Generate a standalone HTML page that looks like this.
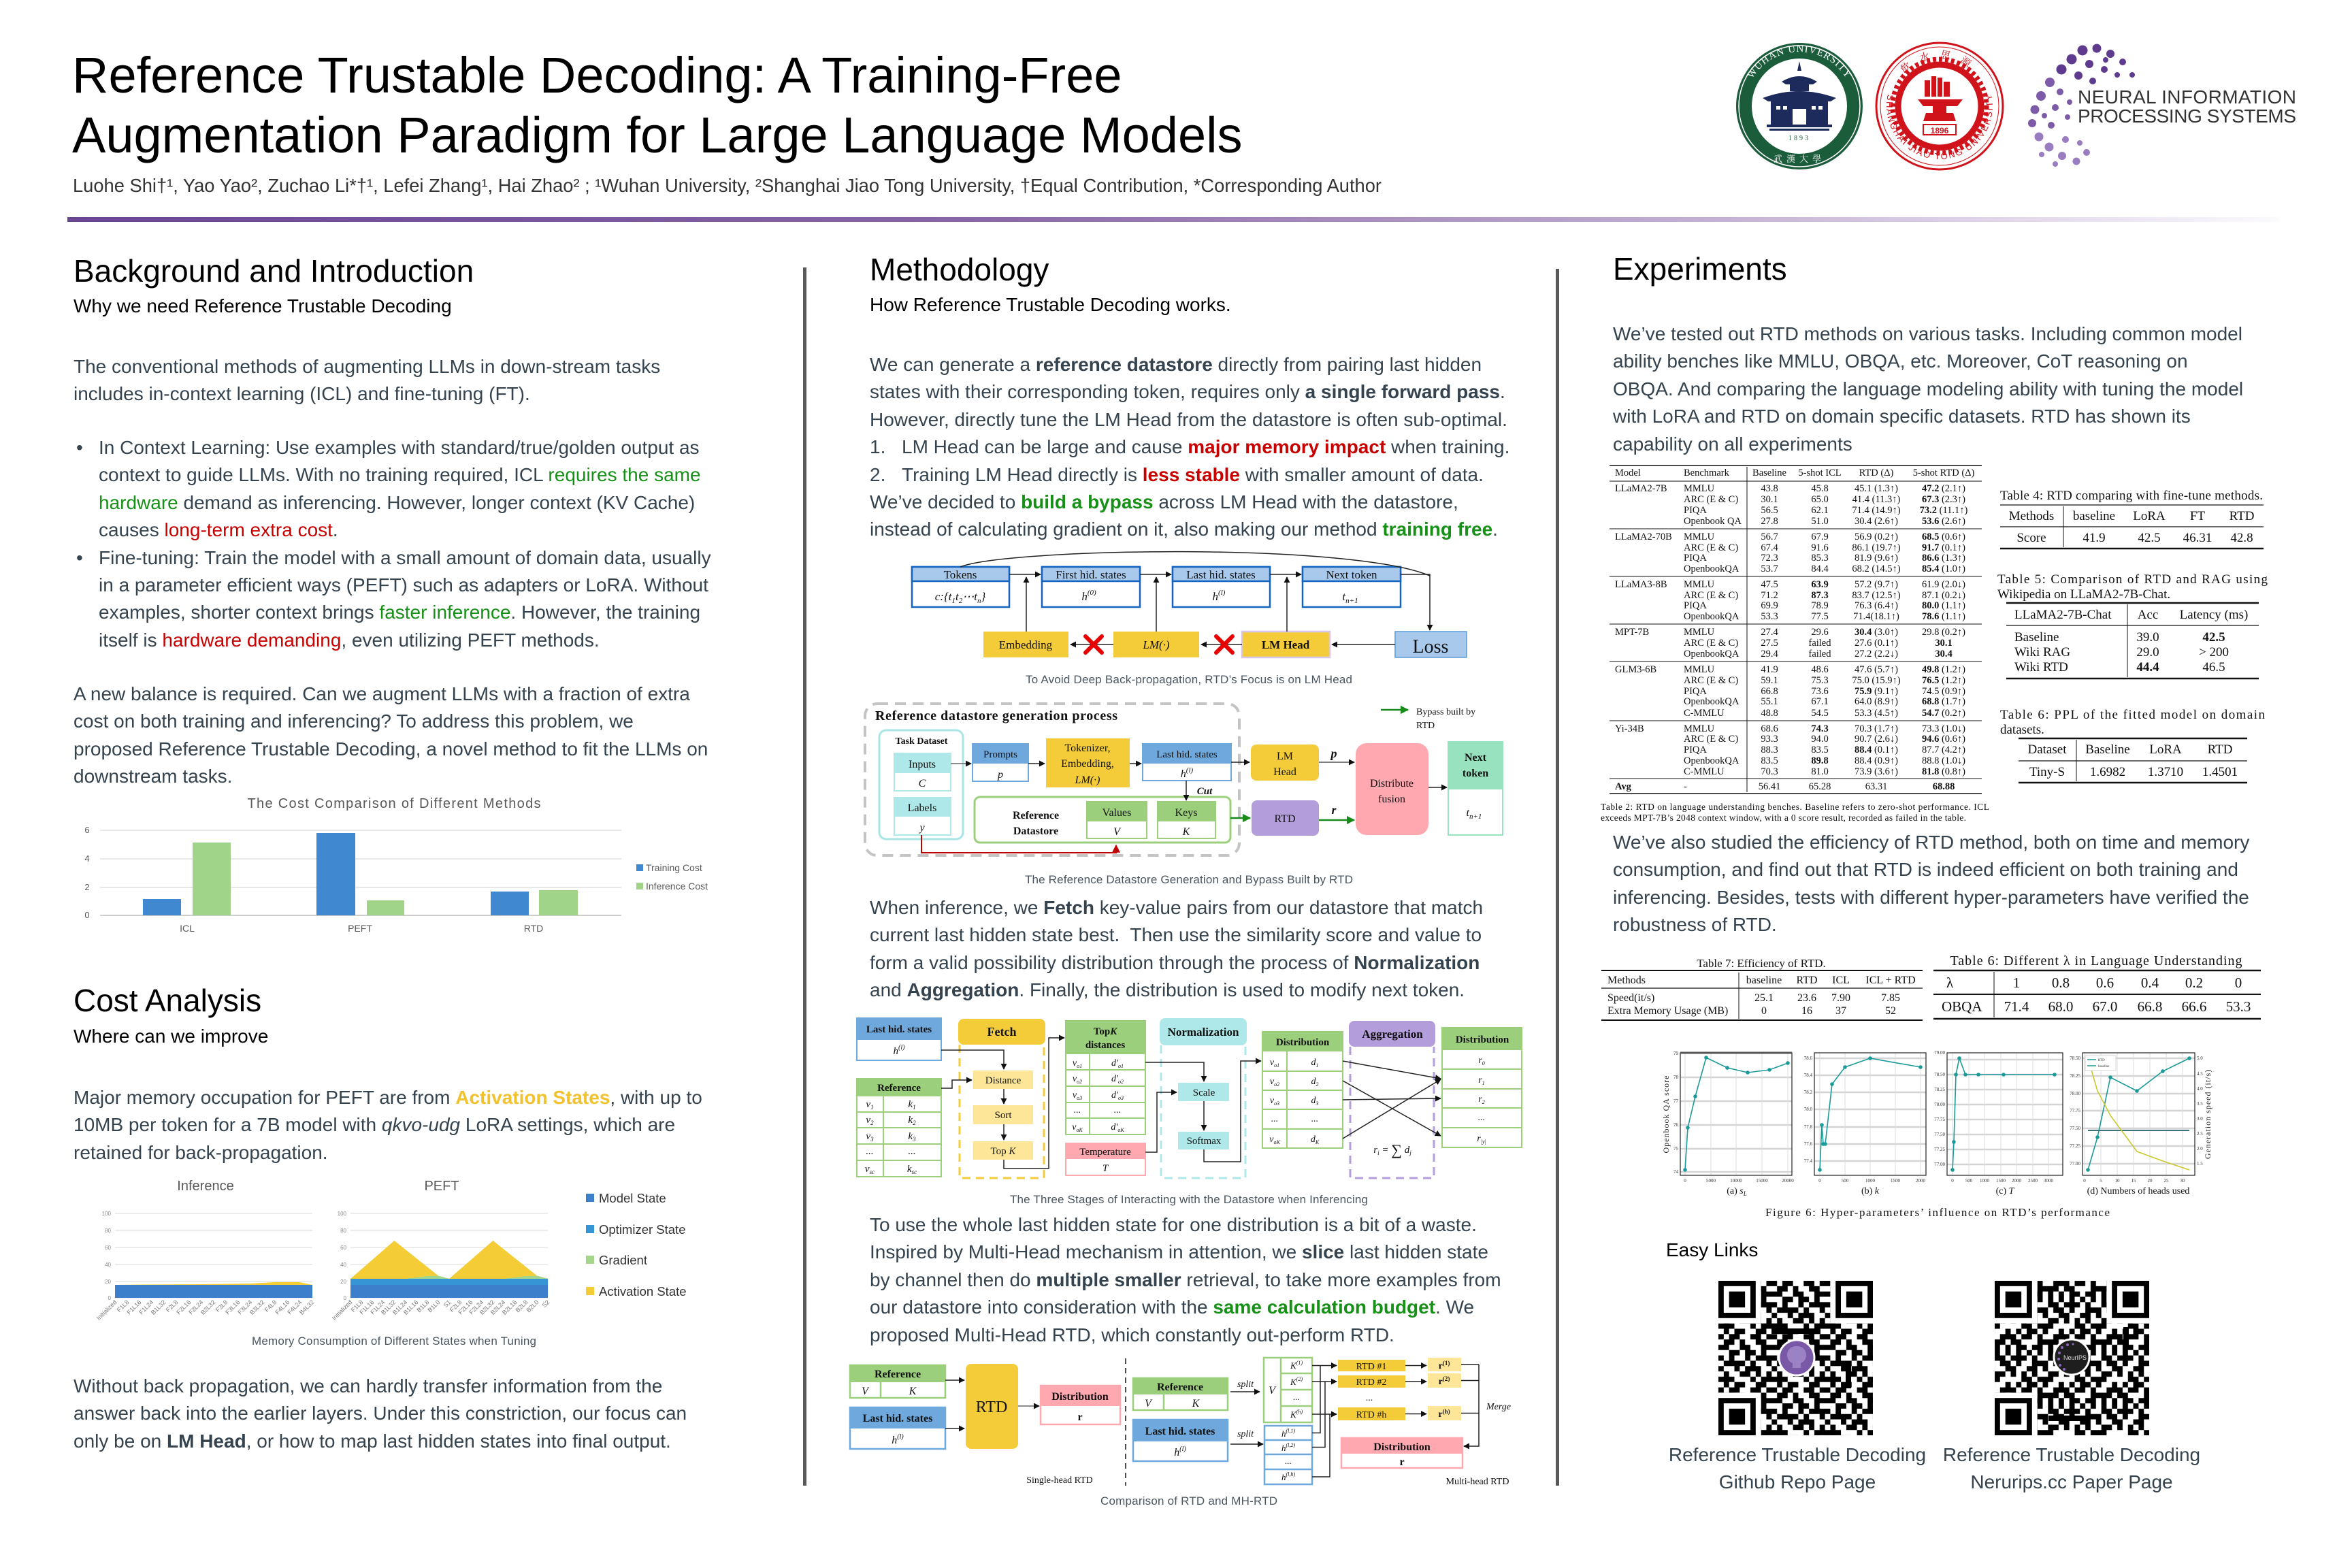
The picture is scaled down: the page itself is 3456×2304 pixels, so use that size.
<!DOCTYPE html>
<html><head><meta charset="utf-8"><style>
html,body{margin:0;padding:0}
body{width:3456px;height:2304px;position:relative;overflow:hidden;background:#fff;font-family:"Liberation Sans",Arial,sans-serif}
.a{position:absolute;white-space:nowrap}
.p{font-size:28px;line-height:40.4px;color:#35434f}
.h{font-size:46px;line-height:46px;color:#000}
.s{font-size:28px;line-height:28px;color:#000}
.gr{color:#169016}.rd{color:#c80000}.yl{color:#f2c12e;font-weight:bold}
b{font-weight:bold}
svg{position:absolute;left:0;top:0}
.sf{font-family:"Liberation Serif","Times New Roman",serif}
.ss{font-family:"Liberation Sans",Arial,sans-serif}
</style></head><body>
<svg width="3456" height="2304" viewBox="0 0 3456 2304" xmlns="http://www.w3.org/2000/svg">
<defs>
<linearGradient id="pg" x1="0" x2="1" y1="0" y2="0"><stop offset="0" stop-color="#694690"/><stop offset="0.4" stop-color="#8764a6"/><stop offset="0.75" stop-color="#c4b2d6"/><stop offset="1" stop-color="#fbfafd"/></linearGradient>
<marker id="ar" viewBox="0 0 10 10" refX="9" refY="5" markerWidth="6" markerHeight="6" orient="auto"><path d="M0,0L10,5L0,10z" fill="#111"/></marker>
<marker id="ag" viewBox="0 0 10 10" refX="9" refY="5" markerWidth="5" markerHeight="5" orient="auto"><path d="M0,0L10,5L0,10z" fill="#1a8a1a"/></marker>
<marker id="arr" viewBox="0 0 10 10" refX="9" refY="5" markerWidth="6" markerHeight="6" orient="auto"><path d="M0,0L10,5L0,10z" fill="#c00000"/></marker>
<pattern id="qa" patternUnits="userSpaceOnUse" width="78.3" height="78.3" patternTransform="translate(2525,1882)"><path transform="scale(7.83)" fill="#000" d="M0 0h1v1h-1zM2 0h2v1h-2zM6 0h2v1h-2zM9 0h1v1h-1zM1 1h2v1h-2zM4 1h1v1h-1zM7 1h2v1h-2zM0 2h2v1h-2zM4 2h2v1h-2zM8 2h2v1h-2zM2 3h2v1h-2zM5 3h2v1h-2zM8 3h1v1h-1zM0 4h1v1h-1zM2 4h1v1h-1zM5 4h1v1h-1zM7 4h3v1h-3zM1 5h4v1h-4zM6 5h1v1h-1zM9 5h1v1h-1zM0 6h1v1h-1zM3 6h1v1h-1zM5 6h3v1h-3zM1 7h1v1h-1zM4 7h2v1h-2zM7 7h1v1h-1zM9 7h1v1h-1zM0 8h3v1h-3zM6 8h1v1h-1zM8 8h2v1h-2zM1 9h1v1h-1zM3 9h2v1h-2zM7 9h2v1h-2z"/></pattern>
<pattern id="qb" patternUnits="userSpaceOnUse" width="78.3" height="78.3" patternTransform="translate(2954.5,1905.5) rotate(90)"><path transform="scale(7.83)" fill="#000" d="M0 0h1v1h-1zM2 0h2v1h-2zM6 0h2v1h-2zM9 0h1v1h-1zM1 1h2v1h-2zM4 1h1v1h-1zM7 1h2v1h-2zM0 2h2v1h-2zM4 2h2v1h-2zM8 2h2v1h-2zM2 3h2v1h-2zM5 3h2v1h-2zM8 3h1v1h-1zM0 4h1v1h-1zM2 4h1v1h-1zM5 4h1v1h-1zM7 4h3v1h-3zM1 5h4v1h-4zM6 5h1v1h-1zM9 5h1v1h-1zM0 6h1v1h-1zM3 6h1v1h-1zM5 6h3v1h-3zM1 7h1v1h-1zM4 7h2v1h-2zM7 7h1v1h-1zM9 7h1v1h-1zM0 8h3v1h-3zM6 8h1v1h-1zM8 8h2v1h-2zM1 9h1v1h-1zM3 9h2v1h-2zM7 9h2v1h-2z"/></pattern>
<g id="fd"><rect x="0" y="0" width="54.8" height="54.8" fill="#000"/><rect x="7.83" y="7.83" width="39.15" height="39.15" fill="#fff"/><rect x="15.66" y="15.66" width="23.49" height="23.49" fill="#000"/></g>
<path id="wharc" d="M2568.8,183.4 A80,80 0 1,1 2719.2,183.4"/>
<path id="sjarc" d="M2776.7,129.3 A78,78 0 1,0 2923.3,129.3"/>
<path id="sjtop" d="M2790,120 A70,70 0 0,1 2910,120"/>
</defs>

<!-- header bar & separators -->
<rect x="99" y="319" width="3251" height="7" fill="url(#pg)"/>
<rect x="1180" y="393" width="5" height="1790" fill="#595959"/>
<rect x="2286" y="395" width="5" height="1788" fill="#595959"/>

<!-- Wuhan logo -->
<circle cx="2644" cy="156" r="93" fill="#1b5c3b"/>
<circle cx="2644" cy="156" r="89" fill="none" stroke="#fff" stroke-width="1.5"/>
<circle cx="2644" cy="156" r="70" fill="#fff"/>
<text class="sf" font-size="15" fill="#fff" letter-spacing="1"><textPath href="#wharc" startOffset="50%" text-anchor="middle">WUHAN UNIVERSITY</textPath></text>
<g fill="#1d2a5c">
<path d="M2644,90 l3,14 h-6z"/>
<path d="M2618,120 Q2644,104 2670,120 L2664,124 H2624Z"/>
<rect x="2630" y="124" width="28" height="10"/>
<path d="M2590,144 Q2644,124 2698,144 L2690,149 H2598Z"/>
<rect x="2602" y="149" width="84" height="34"/>
<rect x="2596" y="183" width="96" height="4"/>
<rect x="2600" y="189" width="88" height="3"/>
</g>
<g fill="#fff"><rect x="2610" y="156" width="6" height="5"/><rect x="2620" y="156" width="6" height="5"/><rect x="2662" y="156" width="6" height="5"/><rect x="2672" y="156" width="6" height="5"/><rect x="2634" y="160" width="20" height="23"/></g>
<text x="2644" y="206" class="sf" font-size="10" fill="#1b5c3b" text-anchor="middle" letter-spacing="3">1893</text>
<text x="2644" y="238" font-family="Noto Serif CJK SC,Noto Sans CJK SC,serif" font-size="13" fill="#fff" text-anchor="middle" letter-spacing="6">武漢大學</text>

<!-- SJTU logo -->
<circle cx="2850" cy="156" r="93" fill="#fff" stroke="#d0121b" stroke-width="3"/>
<circle cx="2850" cy="156" r="87" fill="none" stroke="#d0121b" stroke-width="1"/>
<circle cx="2850" cy="156" r="69" fill="none" stroke="#d0121b" stroke-width="7" stroke-dasharray="5 4"/>
<circle cx="2850" cy="156" r="61" fill="none" stroke="#d0121b" stroke-width="9"/>
<text class="ss" font-size="13" fill="#d0121b"><textPath href="#sjarc" startOffset="50%" text-anchor="middle" textLength="280">SHANGHAI JIAO TONG UNIVERSITY</textPath></text>
<text font-family="Noto Serif CJK SC,Noto Sans CJK SC,serif" font-size="15" fill="#d0121b"><textPath href="#sjtop" startOffset="50%" text-anchor="middle" letter-spacing="14">飲水思源</textPath></text>
<g fill="#d0121b">
<rect x="2828" y="118" width="8" height="24"/><rect x="2838" y="112" width="7" height="30"/><rect x="2847" y="114" width="7" height="28"/><rect x="2856" y="120" width="9" height="22"/>
<path d="M2818,146 H2884 L2876,156 H2860 V166 H2870 L2874,178 H2826 L2830,166 H2840 V156 H2826Z"/>
<rect x="2826" y="183" width="48" height="15" fill="#fff" stroke="#d0121b" stroke-width="2"/>
</g>
<text x="2850" y="196" class="ss" font-size="12" font-weight="bold" fill="#d0121b" text-anchor="middle">1896</text>

<!-- NeurIPS logo -->
<g fill="#5e3b8e">
<circle cx="3060" cy="74" r="7.5"/><circle cx="3081" cy="71" r="6.5"/><circle cx="3101" cy="79" r="6"/><circle cx="3119" cy="91" r="5"/><circle cx="3133" cy="110" r="4"/><circle cx="3044" cy="87" r="7.5"/><circle cx="3070" cy="94" r="6"/><circle cx="3092" cy="102" r="5"/><circle cx="3111" cy="110" r="4"/><circle cx="3029" cy="102" r="7.5"/><circle cx="3054" cy="111" r="6"/><circle cx="3075" cy="119" r="5"/><circle cx="3094" cy="88" r="4"/>
</g>
<g fill="#7d5ba8">
<circle cx="3012" cy="121" r="7"/><circle cx="2999" cy="141" r="7"/><circle cx="2990" cy="161" r="6.5"/><circle cx="2986" cy="181" r="6"/><circle cx="3027" cy="135" r="5"/><circle cx="3020" cy="158" r="5"/><circle cx="3014" cy="184" r="5"/><circle cx="3041" cy="150" r="4"/><circle cx="3038" cy="172" r="4"/><circle cx="3004" cy="170" r="4"/>
</g>
<g fill="#9a7cc0">
<circle cx="2996" cy="201" r="6.5"/><circle cx="3011" cy="216" r="6.5"/><circle cx="3030" cy="229" r="6"/><circle cx="3051" cy="237" r="5.5"/><circle cx="3066" cy="224" r="5"/><circle cx="3035" cy="205" r="5"/><circle cx="3056" cy="210" r="4"/><circle cx="3000" cy="227" r="4"/><circle cx="3020" cy="241" r="4"/>
</g>
<text x="3053" y="152" class="ss" font-size="28" fill="#333" textLength="321">NEURAL INFORMATION</text>
<text x="3053" y="180" class="ss" font-size="28" fill="#333" textLength="321">PROCESSING SYSTEMS</text>

<!-- ============ Cost comparison chart ============ -->
<text x="579" y="1187" class="ss" font-size="20" fill="#595959" text-anchor="middle" textLength="431">The Cost Comparison of Different Methods</text>
<g stroke="#d9d9d9" stroke-width="1.2"><path d="M147,1220H913M147,1262H913M147,1304H913"/></g>
<path d="M147,1345H913" stroke="#bfbfbf" stroke-width="1.5"/>
<g class="ss" font-size="13" fill="#595959" text-anchor="middle"><text x="128" y="1224">6</text><text x="128" y="1266">4</text><text x="128" y="1308">2</text><text x="128" y="1349">0</text></g>
<g fill="#4088d0"><rect x="210" y="1321" width="56" height="24"/><rect x="465" y="1224" width="57" height="121"/><rect x="721" y="1310" width="56" height="35"/></g>
<g fill="#a0d488"><rect x="283" y="1238" width="56" height="107"/><rect x="539" y="1323" width="55" height="22"/><rect x="792" y="1308" width="57" height="37"/></g>
<g class="ss" font-size="14" fill="#595959" text-anchor="middle"><text x="275" y="1369">ICL</text><text x="529" y="1369">PEFT</text><text x="784" y="1369">RTD</text></g>
<rect x="935" y="1270" width="10" height="10" fill="#4088d0"/><text x="949" y="1280" class="ss" font-size="14" fill="#595959">Training Cost</text>
<rect x="935" y="1297" width="10" height="10" fill="#a0d488"/><text x="949" y="1307" class="ss" font-size="14" fill="#595959">Inference Cost</text>

<!-- ============ Memory charts ============ -->
<text x="302" y="1749" class="ss" font-size="20" fill="#595959" text-anchor="middle">Inference</text>
<text x="649" y="1749" class="ss" font-size="20" fill="#595959" text-anchor="middle">PEFT</text>
<g stroke="#d9d9d9" stroke-width="1"><path d="M169,1783H459M169,1808H459M169,1833H459M169,1858H459M169,1883H459M169,1907H459"/><path d="M515,1783H805M515,1808H805M515,1833H805M515,1858H805M515,1883H805M515,1907H805"/></g>
<g class="ss" font-size="8" fill="#888" text-anchor="end"><text x="163" y="1786">100</text><text x="163" y="1811">80</text><text x="163" y="1836">60</text><text x="163" y="1861">40</text><text x="163" y="1886">20</text><text x="163" y="1910">0</text>
<text x="509" y="1786">100</text><text x="509" y="1811">80</text><text x="509" y="1836">60</text><text x="509" y="1861">40</text><text x="509" y="1886">20</text><text x="509" y="1910">0</text></g>
<rect x="169" y="1888" width="290" height="19" fill="#3d7fcb"/>
<path d="M169,1888 L205,1887.5 L296,1887 L368,1886 L404,1884 L440,1884 L459,1888Z" fill="#f4cc36"/>
<rect x="515" y="1888" width="290" height="19" fill="#3d7fcb"/>
<rect x="515" y="1879" width="290" height="9" fill="#3595d5"/>
<path d="M515,1879 L579.4,1823 L644,1874.5 L660,1879 L724.4,1823 L789,1874.5 L805,1879Z" fill="#f4cc36"/>
<path d="M596,1879 L628,1875 L644,1874.5 L660,1879Z M741,1879 L773,1875 L789,1874.5 L805,1879Z" fill="#a5d68c"/>
<g class="ss" font-size="9" fill="#777" text-anchor="end">
<text transform="translate(172,1914) rotate(-45)">Initialized</text><text transform="translate(190,1914) rotate(-45)">F1L8</text><text transform="translate(208,1914) rotate(-45)">F1L16</text><text transform="translate(226,1914) rotate(-45)">F1L24</text><text transform="translate(244,1914) rotate(-45)">B1L32</text><text transform="translate(262,1914) rotate(-45)">F2L8</text><text transform="translate(281,1914) rotate(-45)">F2L16</text><text transform="translate(299,1914) rotate(-45)">F2L24</text><text transform="translate(317,1914) rotate(-45)">B2L32</text><text transform="translate(335,1914) rotate(-45)">F3L8</text><text transform="translate(353,1914) rotate(-45)">F3L16</text><text transform="translate(371,1914) rotate(-45)">F3L24</text><text transform="translate(389,1914) rotate(-45)">B3L32</text><text transform="translate(407,1914) rotate(-45)">F4L8</text><text transform="translate(426,1914) rotate(-45)">F4L16</text><text transform="translate(444,1914) rotate(-45)">F4L24</text><text transform="translate(462,1914) rotate(-45)">B4L32</text>
<text transform="translate(518,1914) rotate(-45)">Initialized</text><text transform="translate(534,1914) rotate(-45)">F1L8</text><text transform="translate(550,1914) rotate(-45)">F1L16</text><text transform="translate(566,1914) rotate(-45)">F1L24</text><text transform="translate(582,1914) rotate(-45)">B1L32</text><text transform="translate(599,1914) rotate(-45)">B1L24</text><text transform="translate(615,1914) rotate(-45)">B1L16</text><text transform="translate(631,1914) rotate(-45)">B1L8</text><text transform="translate(647,1914) rotate(-45)">B1L0</text><text transform="translate(663,1914) rotate(-45)">S1</text><text transform="translate(679,1914) rotate(-45)">F2L8</text><text transform="translate(695,1914) rotate(-45)">F2L16</text><text transform="translate(711,1914) rotate(-45)">F2L24</text><text transform="translate(727,1914) rotate(-45)">B2L32</text><text transform="translate(743,1914) rotate(-45)">B2L24</text><text transform="translate(760,1914) rotate(-45)">B2L16</text><text transform="translate(776,1914) rotate(-45)">B2L8</text><text transform="translate(792,1914) rotate(-45)">B2L0</text><text transform="translate(808,1914) rotate(-45)">S2</text>
</g>
<rect x="861" y="1754" width="12" height="12" fill="#3d7fcb"/><rect x="861" y="1800" width="12" height="12" fill="#3595d5"/><rect x="861" y="1845" width="12" height="12" fill="#a5d68c"/><rect x="861" y="1891" width="12" height="12" fill="#f4cc36"/>
<g class="ss" font-size="18.5" fill="#333"><text x="880" y="1767">Model State</text><text x="880" y="1813">Optimizer State</text><text x="880" y="1858">Gradient</text><text x="880" y="1904">Activation State</text></g>
<text x="579" y="1976" class="ss" font-size="17" fill="#4a5560" text-anchor="middle" textLength="418">Memory Consumption of Different States when Tuning</text>

<!-- ============ Figure 1 ============ -->
<g class="sf" font-size="17" text-anchor="middle" fill="#111">
<g stroke="#1565c0" stroke-width="2.5">
<rect x="1340" y="833" width="143" height="59" fill="#fff"/><rect x="1340" y="833" width="143" height="21" fill="#a9c9ec"/>
<rect x="1531" y="833" width="144" height="59" fill="#fff"/><rect x="1531" y="833" width="144" height="21" fill="#a9c9ec"/>
<rect x="1723" y="833" width="143" height="59" fill="#fff"/><rect x="1723" y="833" width="143" height="21" fill="#a9c9ec"/>
<rect x="1914" y="833" width="144" height="59" fill="#fff"/><rect x="1914" y="833" width="144" height="21" fill="#a9c9ec"/>
</g>
<text x="1411" y="850">Tokens</text><text x="1603" y="850">First hid. states</text><text x="1794" y="850">Last hid. states</text><text x="1986" y="850">Next token</text>
<text x="1411" y="882" font-style="italic">c:{t<tspan font-size="11" dy="4">1</tspan><tspan dy="-4">t</tspan><tspan font-size="11" dy="4">2</tspan><tspan dy="-4">⋯t</tspan><tspan font-size="11" dy="4">n</tspan><tspan dy="-4">}</tspan></text>
<text x="1600" y="882" font-style="italic">h<tspan font-size="11" dy="-8">(0)</tspan></text>
<text x="1791" y="882" font-style="italic">h<tspan font-size="11" dy="-8">(l)</tspan></text>
<text x="1984" y="882" font-style="italic">t<tspan font-size="11" dy="4">n+1</tspan></text>
<rect x="1445" y="928" width="125" height="38" fill="#f4cc3a"/>
<rect x="1636" y="928" width="126" height="38" fill="#f4cc3a"/>
<rect x="1825" y="928" width="129" height="38" fill="#f4cc3a" stroke="#d6c6ee" stroke-width="2.5"/>
<rect x="2050" y="928" width="105" height="38" fill="#a9c9ec" stroke="#5b9bd5" stroke-width="1.5"/>
<text x="1507" y="953">Embedding</text><text x="1699" y="953" font-style="italic">LM(·)</text><text x="1889" y="953" font-weight="bold">LM Head</text><text x="2102" y="959" font-size="28">Loss</text>
</g>
<g stroke="#222" stroke-width="1.5" fill="none">
<path d="M1483,844H1529" marker-end="url(#ar)"/><path d="M1675,844H1721" marker-end="url(#ar)"/><path d="M1866,844H1912" marker-end="url(#ar)"/>
<path d="M1411,833 C1480,806 1980,796 2101,846"/>
<path d="M2058,844H2101V926" marker-end="url(#ar)"/>
<path d="M1508,928V848" marker-end="url(#ar)"/><path d="M1699,928V848" marker-end="url(#ar)"/><path d="M1891,928V848" marker-end="url(#ar)"/>
<path d="M2050,947H1957" marker-end="url(#ar)"/><path d="M1825,947H1765" marker-end="url(#ar)"/><path d="M1636,947H1573" marker-end="url(#ar)"/>
</g>
<g stroke="#e80000" stroke-width="6" stroke-linecap="round"><path d="M1787,935L1811,959M1811,935L1787,959"/><path d="M1595,935L1619,959M1619,935L1595,959"/></g>
<text x="1747" y="1004" class="ss" font-size="17" fill="#4a5560" text-anchor="middle" textLength="480">To Avoid Deep Back-propagation, RTD’s Focus is on LM Head</text>

<!-- ============ Figure 2 ============ -->
<rect x="1271" y="1034" width="550" height="223" rx="18" fill="none" stroke="#c4c4c4" stroke-width="4" stroke-dasharray="16 10"/>
<g class="sf" fill="#111" text-anchor="middle" font-size="16">
<text x="1286" y="1058" text-anchor="start" font-weight="bold" font-size="20" textLength="356">Reference datastore generation process</text>
<rect x="1292" y="1073" width="123" height="160" rx="10" fill="#fff" stroke="#a8e6e6" stroke-width="3"/>
<text x="1354" y="1093" font-weight="bold" font-size="14">Task Dataset</text>
<rect x="1314" y="1107" width="83" height="55" fill="#fff" stroke="#aee8e8" stroke-width="2"/><rect x="1314" y="1107" width="83" height="29" fill="#aee8e8"/>
<rect x="1314" y="1172" width="83" height="55" fill="#fff" stroke="#aee8e8" stroke-width="2"/><rect x="1314" y="1172" width="83" height="28" fill="#aee8e8"/>
<text x="1355" y="1128">Inputs</text><text x="1355" y="1156" font-style="italic">C</text>
<text x="1355" y="1192">Labels</text><text x="1355" y="1221" font-style="italic">y</text>
<rect x="1429" y="1093" width="82" height="55" fill="#fff" stroke="#6fa8dc" stroke-width="2"/><rect x="1429" y="1093" width="82" height="29" fill="#6fa8dc"/>
<text x="1470" y="1113" font-size="15">Prompts</text><text x="1470" y="1143" font-style="italic">p</text>
<rect x="1537" y="1085" width="123" height="72" fill="#f4cc3a"/>
<text x="1598" y="1104">Tokenizer,</text><text x="1598" y="1127">Embedding,</text><text x="1598" y="1151" font-style="italic">LM(·)</text>
<rect x="1679" y="1093" width="130" height="54" fill="#fff" stroke="#6fa8dc" stroke-width="2"/><rect x="1679" y="1093" width="130" height="29" fill="#6fa8dc"/>
<text x="1744" y="1113" font-size="15">Last hid. states</text><text x="1744" y="1142" font-style="italic">h<tspan font-size="11" dy="-7">(l)</tspan></text>
<rect x="1838" y="1094" width="100" height="53" rx="8" fill="#f4cc3a"/>
<text x="1888" y="1116">LM</text><text x="1888" y="1139">Head</text>
<rect x="1992" y="1092" width="107" height="135" rx="16" fill="#ffa8b0"/>
<text x="2045" y="1156">Distribute</text><text x="2045" y="1179">fusion</text>
<rect x="2128" y="1090" width="80" height="137" fill="#fff" stroke="#98e2c0" stroke-width="2"/><rect x="2128" y="1090" width="80" height="70" fill="#98e2c0"/>
<text x="2168" y="1118" font-weight="bold">Next</text><text x="2168" y="1141" font-weight="bold">token</text>
<text x="2166" y="1199" font-style="italic">t<tspan font-size="11" dy="4">n+1</tspan></text>
<rect x="1432" y="1171" width="376" height="67" rx="8" fill="#fff" stroke="#9ccf7c" stroke-width="3"/>
<text x="1522" y="1203" font-weight="bold">Reference</text><text x="1522" y="1226" font-weight="bold">Datastore</text>
<rect x="1597" y="1178" width="88" height="54" fill="#fff" stroke="#9ccf7c" stroke-width="2"/><rect x="1597" y="1178" width="88" height="29" fill="#9ccf7c"/>
<rect x="1701" y="1178" width="85" height="54" fill="#fff" stroke="#9ccf7c" stroke-width="2"/><rect x="1701" y="1178" width="85" height="29" fill="#9ccf7c"/>
<text x="1641" y="1199">Values</text><text x="1641" y="1227" font-style="italic">V</text>
<text x="1743" y="1199">Keys</text><text x="1743" y="1227" font-style="italic">K</text>
<rect x="1839" y="1176" width="99" height="52" rx="8" fill="#b39ddb"/>
<text x="1888" y="1208">RTD</text>
<text x="1960" y="1113" font-weight="bold" font-style="italic" font-size="18">p</text>
<text x="1960" y="1196" font-weight="bold" font-style="italic" font-size="18">r</text>
<text x="1770" y="1167" font-weight="bold" font-style="italic" font-size="15">Cut</text>
<text x="2081" y="1050" text-anchor="start" font-size="14">Bypass built by</text><text x="2081" y="1070" text-anchor="start" font-size="14">RTD</text>
</g>
<g stroke="#222" stroke-width="1.5" fill="none">
<path d="M1397,1122H1427" marker-end="url(#ar)" stroke="#666"/><path d="M1511,1122H1535" marker-end="url(#ar)"/><path d="M1660,1122H1677" marker-end="url(#ar)"/><path d="M1809,1120H1836" marker-end="url(#ar)"/>
<path d="M1938,1120H1990" marker-end="url(#ar)" stroke="#555"/><path d="M2099,1157H2126" marker-end="url(#ar)"/>
<path d="M1743,1147V1176" marker-end="url(#ar)"/>
</g>
<g stroke="#1a8a1a" stroke-width="2.5" fill="none"><path d="M1808,1202H1837" marker-end="url(#ag)"/><path d="M1938,1205H1990" marker-end="url(#ag)"/><path d="M2029,1043H2069" marker-end="url(#ag)"/></g>
<path d="M1354,1227V1253H1640V1242" stroke="#c00000" stroke-width="2" fill="none" marker-end="url(#arr)"/>
<text x="1747" y="1298" class="ss" font-size="17" fill="#4a5560" text-anchor="middle" textLength="482">The Reference Datastore Generation and Bypass Built by RTD</text>

<!-- ============ Figure 3 ============ -->
<g class="sf" fill="#111" text-anchor="middle" font-size="15">
<rect x="1259" y="1496" width="124" height="62" fill="#fff" stroke="#6fa8dc" stroke-width="2"/><rect x="1259" y="1496" width="124" height="32" fill="#6fa8dc"/>
<text x="1321" y="1517" font-weight="bold">Last hid. states</text><text x="1321" y="1549" font-style="italic">h<tspan font-size="10" dy="-7">(l)</tspan></text>
<rect x="1259" y="1585" width="124" height="144" fill="#fff" stroke="#9ccf7c" stroke-width="2"/><rect x="1259" y="1585" width="124" height="26" fill="#9ccf7c"/>
<path d="M1259,1634H1383M1259,1657H1383M1259,1681H1383M1259,1705H1383M1298,1611V1729" stroke="#9ccf7c" stroke-width="2"/>
<text x="1321" y="1603" font-weight="bold">Reference</text>
<g font-style="italic"><text x="1278" y="1627">v<tspan font-size="9" dy="3">1</tspan></text><text x="1340" y="1627">k<tspan font-size="9" dy="3">1</tspan></text><text x="1278" y="1650">v<tspan font-size="9" dy="3">2</tspan></text><text x="1340" y="1650">k<tspan font-size="9" dy="3">2</tspan></text><text x="1278" y="1674">v<tspan font-size="9" dy="3">3</tspan></text><text x="1340" y="1674">k<tspan font-size="9" dy="3">3</tspan></text><text x="1278" y="1696">...</text><text x="1340" y="1696">...</text><text x="1278" y="1722">v<tspan font-size="9" dy="3">sc</tspan></text><text x="1340" y="1722">k<tspan font-size="9" dy="3">sc</tspan></text></g>
<rect x="1408" y="1497" width="128" height="38" rx="8" fill="#f4cc3a"/><text x="1472" y="1522" font-weight="bold" font-size="18">Fetch</text>
<path d="M1410,1535V1731H1534V1535" fill="none" stroke="#f4cc3a" stroke-width="3" stroke-dasharray="12 8"/>
<rect x="1430" y="1573" width="88" height="27" fill="#fde698"/><text x="1474" y="1592">Distance</text>
<rect x="1430" y="1624" width="88" height="28" fill="#fde698"/><text x="1474" y="1643">Sort</text>
<rect x="1430" y="1677" width="88" height="27" fill="#fde698"/><text x="1474" y="1696">Top <tspan font-style="italic">K</tspan></text>
<rect x="1566" y="1500" width="117" height="167" fill="#fff" stroke="#9ccf7c" stroke-width="2"/><rect x="1566" y="1500" width="117" height="49" fill="#9ccf7c"/>
<path d="M1566,1572H1683M1566,1596H1683M1566,1620H1683M1566,1643H1683M1601,1549V1667" stroke="#9ccf7c" stroke-width="2"/>
<text x="1624" y="1520" font-weight="bold">Top<tspan font-style="italic">K</tspan></text><text x="1624" y="1540" font-weight="bold">distances</text>
<g font-style="italic" font-size="14"><text x="1583" y="1566">v<tspan font-size="8" dy="3">o1</tspan></text><text x="1642" y="1566">d'<tspan font-size="8" dy="3">o1</tspan></text><text x="1583" y="1589">v<tspan font-size="8" dy="3">o2</tspan></text><text x="1642" y="1589">d'<tspan font-size="8" dy="3">o2</tspan></text><text x="1583" y="1613">v<tspan font-size="8" dy="3">o3</tspan></text><text x="1642" y="1613">d'<tspan font-size="8" dy="3">o3</tspan></text><text x="1583" y="1635">...</text><text x="1642" y="1635">...</text><text x="1583" y="1660">v<tspan font-size="8" dy="3">oK</tspan></text><text x="1642" y="1660">d'<tspan font-size="8" dy="3">oK</tspan></text></g>
<rect x="1566" y="1680" width="117" height="47" fill="#fff" stroke="#ffa8b0" stroke-width="2"/><rect x="1566" y="1680" width="117" height="23" fill="#ffa8b0"/>
<text x="1624" y="1697">Temperature</text><text x="1624" y="1721" font-style="italic">T</text>
<rect x="1704" y="1496" width="128" height="40" rx="8" fill="#aee8e8"/><text x="1768" y="1522" font-weight="bold" font-size="17">Normalization</text>
<path d="M1706,1536V1731H1830V1536" fill="none" stroke="#aee8e8" stroke-width="3" stroke-dasharray="12 8"/>
<rect x="1731" y="1591" width="75" height="27" fill="#aee8e8"/><text x="1769" y="1610">Scale</text>
<rect x="1731" y="1663" width="75" height="26" fill="#aee8e8"/><text x="1769" y="1681">Softmax</text>
<rect x="1855" y="1516" width="118" height="171" fill="#fff" stroke="#9ccf7c" stroke-width="2"/><rect x="1855" y="1516" width="118" height="29" fill="#9ccf7c"/>
<path d="M1855,1574H1973M1855,1602H1973M1855,1630H1973M1855,1659H1973M1891,1545V1687" stroke="#9ccf7c" stroke-width="2"/>
<text x="1914" y="1536" font-weight="bold">Distribution</text>
<g font-style="italic" font-size="14"><text x="1873" y="1565">v<tspan font-size="8" dy="3">o1</tspan></text><text x="1932" y="1565">d<tspan font-size="8" dy="3">1</tspan></text><text x="1873" y="1593">v<tspan font-size="8" dy="3">o2</tspan></text><text x="1932" y="1593">d<tspan font-size="8" dy="3">2</tspan></text><text x="1873" y="1621">v<tspan font-size="8" dy="3">o3</tspan></text><text x="1932" y="1621">d<tspan font-size="8" dy="3">3</tspan></text><text x="1873" y="1648">...</text><text x="1932" y="1648">...</text><text x="1873" y="1678">v<tspan font-size="8" dy="3">oK</tspan></text><text x="1932" y="1678">d<tspan font-size="8" dy="3">K</tspan></text></g>
<rect x="1982" y="1500" width="127" height="38" rx="8" fill="#b39ddb"/><text x="2046" y="1525" font-weight="bold" font-size="17">Aggregation</text>
<path d="M1984,1538V1731H2107V1538" fill="none" stroke="#b39ddb" stroke-width="3" stroke-dasharray="12 8"/>
<text x="2046" y="1694" font-style="italic" font-size="15">r<tspan font-size="9" dy="3">i</tspan><tspan dy="-3"> = </tspan><tspan font-size="22" dy="3">∑</tspan><tspan dy="-3"> d</tspan><tspan font-size="9" dy="3">j</tspan></text>
<rect x="2119" y="1510" width="117" height="176" fill="#fff" stroke="#9ccf7c" stroke-width="2"/><rect x="2119" y="1510" width="117" height="33" fill="#9ccf7c"/>
<path d="M2119,1571H2236M2119,1600H2236M2119,1628H2236M2119,1657H2236" stroke="#9ccf7c" stroke-width="2"/>
<text x="2178" y="1532" font-weight="bold">Distribution</text>
<g font-style="italic" font-size="14"><text x="2177" y="1562">r<tspan font-size="8" dy="3">0</tspan></text><text x="2177" y="1591">r<tspan font-size="8" dy="3">1</tspan></text><text x="2177" y="1619">r<tspan font-size="8" dy="3">2</tspan></text><text x="2177" y="1646">...</text><text x="2177" y="1677">r<tspan font-size="8" dy="3">|y|</tspan></text></g>
</g>
<g stroke="#222" stroke-width="1.5" fill="none">
<path d="M1383,1543H1475V1571" marker-end="url(#ar)"/><path d="M1383,1599H1399V1587H1428" marker-end="url(#ar)"/>
<path d="M1475,1600V1622" marker-end="url(#ar)"/><path d="M1475,1652V1675" marker-end="url(#ar)"/>
<path d="M1475,1704V1717H1541V1525H1564" marker-end="url(#ar)"/>
<path d="M1683,1561H1769V1589" marker-end="url(#ar)"/><path d="M1683,1693H1700V1605H1729" marker-end="url(#ar)"/>
<path d="M1769,1618V1661" marker-end="url(#ar)"/><path d="M1769,1689V1707H1823V1559H1853" marker-end="url(#ar)"/>
<path d="M1973,1559L2117,1585" marker-end="url(#ar)"/><path d="M1973,1588L2117,1669" marker-end="url(#ar)"/><path d="M1973,1616L2117,1614" marker-end="url(#ar)"/><path d="M1973,1673L2117,1586" marker-end="url(#ar)"/>
</g>
<text x="1747" y="1768" class="ss" font-size="17" fill="#4a5560" text-anchor="middle" textLength="526">The Three Stages of Interacting with the Datastore when Inferencing</text>

<!-- ============ Figure 4 ============ -->
<g class="sf" fill="#111" text-anchor="middle" font-size="16">
<rect x="1249" y="2006" width="140" height="48" fill="#fff" stroke="#9ccf7c" stroke-width="2.5"/><rect x="1249" y="2006" width="140" height="25" fill="#9ccf7c"/><path d="M1294,2031V2054" stroke="#9ccf7c" stroke-width="2.5"/>
<text x="1319" y="2024" font-weight="bold">Reference</text><text x="1271" y="2049" font-style="italic">V</text><text x="1341" y="2049" font-style="italic">K</text>
<rect x="1249" y="2068" width="140" height="61" fill="#fff" stroke="#6fa8dc" stroke-width="2.5"/><rect x="1249" y="2068" width="140" height="31" fill="#6fa8dc"/>
<text x="1319" y="2089" font-weight="bold">Last hid. states</text><text x="1319" y="2121" font-style="italic">h<tspan font-size="10" dy="-7">(l)</tspan></text>
<rect x="1419" y="2004" width="77" height="125" rx="8" fill="#f4cc3a"/><text x="1457" y="2075" font-size="24">RTD</text>
<rect x="1529" y="2036" width="117" height="57" fill="#fff" stroke="#ffa8b0" stroke-width="2.5"/><rect x="1529" y="2036" width="117" height="30" fill="#ffa8b0"/>
<text x="1587" y="2057" font-weight="bold">Distribution</text><text x="1587" y="2087" font-weight="bold">r</text>
<text x="1557" y="2179" font-size="14">Single-head RTD</text>
<rect x="1665" y="2025" width="139" height="47" fill="#fff" stroke="#9ccf7c" stroke-width="2.5"/><rect x="1665" y="2025" width="139" height="24" fill="#9ccf7c"/><path d="M1710,2049V2072" stroke="#9ccf7c" stroke-width="2.5"/>
<text x="1734" y="2043" font-weight="bold">Reference</text><text x="1687" y="2067" font-style="italic">V</text><text x="1757" y="2067" font-style="italic">K</text>
<rect x="1665" y="2086" width="139" height="61" fill="#fff" stroke="#6fa8dc" stroke-width="2.5"/><rect x="1665" y="2086" width="139" height="32" fill="#6fa8dc"/>
<text x="1734" y="2108" font-weight="bold">Last hid. states</text><text x="1734" y="2139" font-style="italic">h<tspan font-size="10" dy="-7">(l)</tspan></text>
<text x="1830" y="2038" font-style="italic" font-size="14">split</text><text x="1830" y="2111" font-style="italic" font-size="14">split</text>
<rect x="1857" y="1995" width="71" height="95" fill="#fff" stroke="#9ccf7c" stroke-width="2.5"/>
<path d="M1882,1995V2090M1882,2018H1928M1882,2042H1928M1882,2066H1928" stroke="#9ccf7c" stroke-width="2.5"/>
<text x="1869" y="2048" font-style="italic">V</text>
<g font-size="13" font-style="italic"><text x="1905" y="2011">K<tspan font-size="8" dy="-6">(1)</tspan></text><text x="1905" y="2035">K<tspan font-size="8" dy="-6">(2)</tspan></text><text x="1905" y="2057">...</text><text x="1905" y="2083">K<tspan font-size="8" dy="-6">(h)</tspan></text></g>
<rect x="1858" y="2095" width="70" height="86" fill="#fff" stroke="#6fa8dc" stroke-width="2.5"/>
<path d="M1858,2116H1928M1858,2137H1928M1858,2159H1928" stroke="#6fa8dc" stroke-width="2.5"/>
<g font-size="13" font-style="italic"><text x="1893" y="2111">h<tspan font-size="8" dy="-6">(l,1)</tspan></text><text x="1893" y="2132">h<tspan font-size="8" dy="-6">(l,2)</tspan></text><text x="1893" y="2151">...</text><text x="1893" y="2175">h<tspan font-size="8" dy="-6">(l,h)</tspan></text></g>
<rect x="1966" y="1998" width="99" height="17" fill="#f4cc3a"/><rect x="1966" y="2021" width="99" height="18" fill="#f4cc3a"/><rect x="1966" y="2068" width="99" height="19" fill="#f4cc3a"/>
<g font-size="14"><text x="2015" y="2012">RTD #1</text><text x="2015" y="2035">RTD #2</text><text x="2015" y="2083">RTD #h</text><text x="2012" y="2058">...</text></g>
<rect x="2098" y="1995" width="49" height="20" fill="#fde698"/><rect x="2098" y="2018" width="49" height="21" fill="#fde698"/><rect x="2098" y="2066" width="49" height="21" fill="#fde698"/>
<g font-size="14" font-weight="bold"><text x="2122" y="2011">r<tspan font-size="9" dy="-5">(1)</tspan></text><text x="2122" y="2034">r<tspan font-size="9" dy="-5">(2)</tspan></text><text x="2122" y="2082">r<tspan font-size="9" dy="-5">(h)</tspan></text></g>
<text x="2202" y="2071" font-style="italic" font-size="14">Merge</text>
<rect x="1971" y="2113" width="178" height="44" fill="#fff" stroke="#ffa8b0" stroke-width="2.5"/><rect x="1971" y="2113" width="178" height="23" fill="#ffa8b0"/>
<text x="2060" y="2131" font-weight="bold">Distribution</text><text x="2060" y="2153" font-weight="bold">r</text>
<text x="2171" y="2181" font-size="14">Multi-head RTD</text>
</g>
<path d="M1654,1996V2183" stroke="#111" stroke-width="1.5" stroke-dasharray="8 6"/>
<g stroke="#222" stroke-width="1.5" fill="none">
<path d="M1389,2028H1417" marker-end="url(#ar)"/><path d="M1389,2099H1417" marker-end="url(#ar)"/><path d="M1496,2066H1527" marker-end="url(#ar)" stroke="#666"/>
<path d="M1808,2045H1851" marker-end="url(#ar)"/><path d="M1808,2122H1856" marker-end="url(#ar)"/>
<path d="M1928,2006.5H1964" marker-end="url(#ar)"/><path d="M1928,2030H1964" marker-end="url(#ar)"/><path d="M1928,2078H1964" marker-end="url(#ar)"/>
<path d="M1928,2105.5H1940V2006.5M1928,2126.5H1947V2030M1928,2170H1954V2078"/>
<path d="M2065,2006.5H2096" marker-end="url(#ar)"/><path d="M2065,2030H2096" marker-end="url(#ar)"/><path d="M2065,2077.5H2096" marker-end="url(#ar)"/>
<path d="M2147,2005H2173M2147,2028.5H2173M2147,2076.5H2173"/><path d="M2173,2005V2125H2151" marker-end="url(#ar)"/>
</g>
<text x="1747" y="2211" class="ss" font-size="17" fill="#4a5560" text-anchor="middle" textLength="260">Comparison of RTD and MH-RTD</text>

<!-- ============ Table 2 ============ -->
<g stroke="#111" fill="none">
<path d="M2365,684H2912M2365,1166H2912" stroke-width="1.6"/>
<path d="M2365,707H2912M2365,777H2912M2365,847H2912M2365,917H2912M2365,972H2912M2365,1059H2912M2365,1144H2912" stroke-width="1"/>
<path d="M2567,686V1164" stroke-width="1"/>
</g>
<g class="sf" font-size="14.5" fill="#111">
<text x="2373" y="699">Model</text><text x="2474" y="699">Benchmark</text>
<g text-anchor="middle"><text x="2600" y="699">Baseline</text><text x="2674" y="699">5-shot ICL</text><text x="2757" y="699">RTD (Δ)</text><text x="2856" y="699">5-shot RTD (Δ)</text></g>
<text x="2373" y="722">LLaMA2-7B</text><text x="2373" y="793">LLaMA2-70B</text><text x="2373" y="863">LLaMA3-8B</text><text x="2373" y="933">MPT-7B</text><text x="2373" y="988">GLM3-6B</text><text x="2373" y="1075">Yi-34B</text><text x="2373" y="1160" font-weight="bold">Avg</text>
<text x="2474" y="722">MMLU</text><text x="2474" y="738">ARC (E &amp; C)</text><text x="2474" y="754">PIQA</text><text x="2474" y="770">Openbook QA</text>
<text x="2474" y="793">MMLU</text><text x="2474" y="809">ARC (E &amp; C)</text><text x="2474" y="824">PIQA</text><text x="2474" y="840">OpenbookQA</text>
<text x="2474" y="863">MMLU</text><text x="2474" y="879">ARC (E &amp; C)</text><text x="2474" y="894">PIQA</text><text x="2474" y="910">OpenbookQA</text>
<text x="2474" y="933">MMLU</text><text x="2474" y="949">ARC (E &amp; C)</text><text x="2474" y="965">OpenbookQA</text>
<text x="2474" y="988">MMLU</text><text x="2474" y="1004">ARC (E &amp; C)</text><text x="2474" y="1020">PIQA</text><text x="2474" y="1035">OpenbookQA</text><text x="2474" y="1052">C-MMLU</text>
<text x="2474" y="1075">MMLU</text><text x="2474" y="1090">ARC (E &amp; C)</text><text x="2474" y="1106">PIQA</text><text x="2474" y="1122">OpenbookQA</text><text x="2474" y="1138">C-MMLU</text>
<text x="2474" y="1160">-</text>
<g text-anchor="middle">
<text x="2600" y="722">43.8</text><text x="2674" y="722">45.8</text><text x="2757" y="722">45.1 (1.3↑)</text><text x="2856" y="722"><tspan font-weight="bold">47.2</tspan> (2.1↑)</text>
<text x="2600" y="738">30.1</text><text x="2674" y="738">65.0</text><text x="2757" y="738">41.4 (11.3↑)</text><text x="2856" y="738"><tspan font-weight="bold">67.3</tspan> (2.3↑)</text>
<text x="2600" y="754">56.5</text><text x="2674" y="754">62.1</text><text x="2757" y="754">71.4 (14.9↑)</text><text x="2856" y="754"><tspan font-weight="bold">73.2</tspan> (11.1↑)</text>
<text x="2600" y="770">27.8</text><text x="2674" y="770">51.0</text><text x="2757" y="770">30.4 (2.6↑)</text><text x="2856" y="770"><tspan font-weight="bold">53.6</tspan> (2.6↑)</text>
<text x="2600" y="793">56.7</text><text x="2674" y="793">67.9</text><text x="2757" y="793">56.9 (0.2↑)</text><text x="2856" y="793"><tspan font-weight="bold">68.5</tspan> (0.6↑)</text>
<text x="2600" y="809">67.4</text><text x="2674" y="809">91.6</text><text x="2757" y="809">86.1 (19.7↑)</text><text x="2856" y="809"><tspan font-weight="bold">91.7</tspan> (0.1↑)</text>
<text x="2600" y="824">72.3</text><text x="2674" y="824">85.3</text><text x="2757" y="824">81.9 (9.6↑)</text><text x="2856" y="824"><tspan font-weight="bold">86.6</tspan> (1.3↑)</text>
<text x="2600" y="840">53.7</text><text x="2674" y="840">84.4</text><text x="2757" y="840">68.2 (14.5↑)</text><text x="2856" y="840"><tspan font-weight="bold">85.4</tspan> (1.0↑)</text>
<text x="2600" y="863">47.5</text><text x="2674" y="863" font-weight="bold">63.9</text><text x="2757" y="863">57.2 (9.7↑)</text><text x="2856" y="863">61.9 (2.0↓)</text>
<text x="2600" y="879">71.2</text><text x="2674" y="879" font-weight="bold">87.3</text><text x="2757" y="879">83.7 (12.5↑)</text><text x="2856" y="879">87.1 (0.2↓)</text>
<text x="2600" y="894">69.9</text><text x="2674" y="894">78.9</text><text x="2757" y="894">76.3 (6.4↑)</text><text x="2856" y="894"><tspan font-weight="bold">80.0</tspan> (1.1↑)</text>
<text x="2600" y="910">53.3</text><text x="2674" y="910">77.5</text><text x="2757" y="910">71.4(18.1↑)</text><text x="2856" y="910"><tspan font-weight="bold">78.6</tspan> (1.1↑)</text>
<text x="2600" y="933">27.4</text><text x="2674" y="933">29.6</text><text x="2757" y="933"><tspan font-weight="bold">30.4</tspan> (3.0↑)</text><text x="2856" y="933">29.8 (0.2↑)</text>
<text x="2600" y="949">27.5</text><text x="2674" y="949">failed</text><text x="2757" y="949">27.6 (0.1↑)</text><text x="2856" y="949" font-weight="bold">30.1</text>
<text x="2600" y="965">29.4</text><text x="2674" y="965">failed</text><text x="2757" y="965">27.2 (2.2↓)</text><text x="2856" y="965" font-weight="bold">30.4</text>
<text x="2600" y="988">41.9</text><text x="2674" y="988">48.6</text><text x="2757" y="988">47.6 (5.7↑)</text><text x="2856" y="988"><tspan font-weight="bold">49.8</tspan> (1.2↑)</text>
<text x="2600" y="1004">59.1</text><text x="2674" y="1004">75.3</text><text x="2757" y="1004">75.0 (15.9↑)</text><text x="2856" y="1004"><tspan font-weight="bold">76.5</tspan> (1.2↑)</text>
<text x="2600" y="1020">66.8</text><text x="2674" y="1020">73.6</text><text x="2757" y="1020"><tspan font-weight="bold">75.9</tspan> (9.1↑)</text><text x="2856" y="1020">74.5 (0.9↑)</text>
<text x="2600" y="1035">55.1</text><text x="2674" y="1035">67.1</text><text x="2757" y="1035">64.0 (8.9↑)</text><text x="2856" y="1035"><tspan font-weight="bold">68.8</tspan> (1.7↑)</text>
<text x="2600" y="1052">48.8</text><text x="2674" y="1052">54.5</text><text x="2757" y="1052">53.3 (4.5↑)</text><text x="2856" y="1052"><tspan font-weight="bold">54.7</tspan> (0.2↑)</text>
<text x="2600" y="1075">68.6</text><text x="2674" y="1075" font-weight="bold">74.3</text><text x="2757" y="1075">70.3 (1.7↑)</text><text x="2856" y="1075">73.3 (1.0↓)</text>
<text x="2600" y="1090">93.3</text><text x="2674" y="1090">94.0</text><text x="2757" y="1090">90.7 (2.6↓)</text><text x="2856" y="1090"><tspan font-weight="bold">94.6</tspan> (0.6↑)</text>
<text x="2600" y="1106">88.3</text><text x="2674" y="1106">83.5</text><text x="2757" y="1106"><tspan font-weight="bold">88.4</tspan> (0.1↑)</text><text x="2856" y="1106">87.7 (4.2↑)</text>
<text x="2600" y="1122">83.5</text><text x="2674" y="1122" font-weight="bold">89.8</text><text x="2757" y="1122">88.4 (0.9↑)</text><text x="2856" y="1122">88.8 (1.0↓)</text>
<text x="2600" y="1138">70.3</text><text x="2674" y="1138">81.0</text><text x="2757" y="1138">73.9 (3.6↑)</text><text x="2856" y="1138"><tspan font-weight="bold">81.8</tspan> (0.8↑)</text>
<text x="2600" y="1160">56.41</text><text x="2674" y="1160">65.28</text><text x="2757" y="1160">63.31</text><text x="2856" y="1160" font-weight="bold">68.88</text>
</g>
<text x="2352" y="1190" font-size="13.5" textLength="571">Table 2: RTD on language understanding benches. Baseline refers to zero-shot performance. ICL</text>
<text x="2352" y="1206" font-size="13.5" textLength="537">exceeds MPT-7B’s 2048 context window, with a 0 score result, recorded as failed in the table.</text>
</g>

<!-- ============ Tables 4,5,6 ============ -->
<g class="sf" fill="#111" font-size="19">
<text x="2939" y="734" textLength="386">Table 4: RTD comparing with fine-tune methods.</text>
<path d="M2939,742H3326M2939,774H3326" stroke="#111" stroke-width="1.3"/><path d="M2939,806H3326" stroke="#111" stroke-width="2.5"/><path d="M3032,744V804" stroke="#111" stroke-width="1"/>
<g text-anchor="middle"><text x="2985" y="764">Methods</text><text x="3077" y="764">baseline</text><text x="3158" y="764">LoRA</text><text x="3229" y="764">FT</text><text x="3294" y="764">RTD</text>
<text x="2985" y="796">Score</text><text x="3077" y="796">41.9</text><text x="3158" y="796">42.5</text><text x="3229" y="796">46.31</text><text x="3294" y="796">42.8</text></g>
<text x="2935" y="857" textLength="397">Table 5:  Comparison  of  RTD  and  RAG  using</text>
<text x="2935" y="879">Wikipedia on LLaMA2-7B-Chat.</text>
<path d="M2948,886H3319M2948,997H3319" stroke="#111" stroke-width="2.5"/><path d="M2948,919H3319" stroke="#111" stroke-width="1.3"/><path d="M3126,888V995" stroke="#111" stroke-width="1"/>
<text x="2960" y="909">LLaMA2-7B-Chat</text><text x="3156" y="909" text-anchor="middle">Acc</text><text x="3253" y="909" text-anchor="middle">Latency (ms)</text>
<text x="2960" y="942">Baseline</text><text x="2960" y="964">Wiki RAG</text><text x="2960" y="986">Wiki RTD</text>
<g text-anchor="middle"><text x="3156" y="942">39.0</text><text x="3156" y="964">29.0</text><text x="3156" y="986" font-weight="bold">44.4</text>
<text x="3253" y="942" font-weight="bold">42.5</text><text x="3253" y="964">&gt; 200</text><text x="3253" y="986">46.5</text></g>
<text x="2939" y="1056" textLength="389">Table 6:  PPL  of  the  fitted  model  on  domain</text>
<text x="2939" y="1078">datasets.</text>
<path d="M2966,1085H3302M2966,1150H3302" stroke="#111" stroke-width="2.5"/><path d="M2966,1118H3302" stroke="#111" stroke-width="1.3"/><path d="M3051,1087V1148" stroke="#111" stroke-width="1"/>
<g text-anchor="middle"><text x="3008" y="1107">Dataset</text><text x="3097" y="1107">Baseline</text><text x="3182" y="1107">LoRA</text><text x="3262" y="1107">RTD</text>
<text x="3008" y="1140">Tiny-S</text><text x="3097" y="1140">1.6982</text><text x="3182" y="1140">1.3710</text><text x="3262" y="1140">1.4501</text></g>
</g>

<!-- ============ Table 7 and lambda table ============ -->
<g class="sf" fill="#111" font-size="16">
<text x="2588" y="1421" text-anchor="middle" font-size="17">Table 7: Efficiency of RTD.</text>
<path d="M2353,1426H2825M2353,1499H2825" stroke="#111" stroke-width="2"/><path d="M2353,1452H2825" stroke="#111" stroke-width="1.2"/><path d="M2555,1429V1497" stroke="#111" stroke-width="1"/>
<text x="2362" y="1445">Methods</text>
<g text-anchor="middle"><text x="2592" y="1445">baseline</text><text x="2655" y="1445">RTD</text><text x="2705" y="1445">ICL</text><text x="2778" y="1445">ICL + RTD</text></g>
<text x="2362" y="1471">Speed(it/s)</text><text x="2362" y="1490">Extra Memory Usage (MB)</text>
<g text-anchor="middle"><text x="2592" y="1471">25.1</text><text x="2655" y="1471">23.6</text><text x="2705" y="1471">7.90</text><text x="2778" y="1471">7.85</text>
<text x="2592" y="1490">0</text><text x="2655" y="1490">16</text><text x="2705" y="1490">37</text><text x="2778" y="1490">52</text></g>
<text x="3080" y="1418" text-anchor="middle" font-size="20" textLength="429">Table 6: Different λ in Language Understanding</text>
<path d="M2841,1426H3322M2841,1497H3322" stroke="#111" stroke-width="2.5"/><path d="M2841,1461H3322" stroke="#111" stroke-width="2"/><path d="M2930,1428V1495" stroke="#111" stroke-width="1"/>
<g font-size="21"><text x="2860" y="1451">λ</text><text x="2853" y="1486">OBQA</text>
<g text-anchor="middle"><text x="2963" y="1451">1</text><text x="3028" y="1451">0.8</text><text x="3093" y="1451">0.6</text><text x="3159" y="1451">0.4</text><text x="3224" y="1451">0.2</text><text x="3289" y="1451">0</text>
<text x="2963" y="1486">71.4</text><text x="3028" y="1486">68.0</text><text x="3093" y="1486">67.0</text><text x="3159" y="1486">66.8</text><text x="3224" y="1486">66.6</text><text x="3289" y="1486">53.3</text></g></g>
</g>

<!-- ============ Figure 6 plots ============ -->
<g stroke="#d4d4d4" stroke-width="2.5">
<path d="M2469,1583H2633M2469,1618H2633M2469,1653H2633M2469,1688H2633M2469,1722H2633"/>
<path d="M2666,1555H2830M2666,1580H2830M2666,1605H2830M2666,1630H2830M2666,1656H2830M2666,1681H2830M2666,1706H2830"/>
<path d="M2861,1557H3031M2861,1579H3031M2861,1601H3031M2861,1623H3031M2861,1645H3031M2861,1667H3031M2861,1689H3031M2861,1711H3031"/>
<path d="M3060,1555H3225M3060,1581H3225M3060,1607H3225M3060,1632H3225M3060,1658H3225M3060,1684H3225M3060,1710H3225"/>
</g>
<g stroke="#dcdcdc" stroke-width="1">
<path d="M2476,1547V1727M2514,1547V1727M2551,1547V1727M2589,1547V1727M2627,1547V1727"/>
<path d="M2674,1547V1727M2711,1547V1727M2748,1547V1727M2785,1547V1727M2822,1547V1727"/>
<path d="M2869,1547V1727M2893,1547V1727M2916,1547V1727M2940,1547V1727M2963,1547V1727M2987,1547V1727M3010,1547V1727"/>
<path d="M3063,1547V1727M3087,1547V1727M3111,1547V1727M3135,1547V1727M3159,1547V1727M3183,1547V1727M3207,1547V1727"/>
</g>
<g fill="none" stroke="#222" stroke-width="1.2"><rect x="2469" y="1547" width="164" height="180"/><rect x="2666" y="1547" width="164" height="180"/><rect x="2861" y="1547" width="170" height="180"/><rect x="3060" y="1547" width="165" height="180"/></g>
<path d="M2469,1547H2633" stroke="#555" stroke-width="3"/>
<g fill="none" stroke="#1a9a98" stroke-width="1.6">
<polyline points="2476,1719 2480,1657 2491,1611 2507,1554 2538,1569 2568,1576 2600,1572 2627,1562"/>
<polyline points="2674,1719 2677,1653 2679,1681 2682,1681 2692,1593 2711,1568 2748,1555 2822,1568"/>
<polyline points="2869,1719 2871,1678 2874,1579 2879,1555 2888,1579 2907,1579 2944,1579 3019,1579"/>
<polyline points="3068,1719 3082,1671 3101,1583 3140,1603 3178,1574 3217,1555"/>
</g>
<path d="M3068,1661H3217" stroke="#3b7575" stroke-width="2"/>
<polyline points="3068,1555 3082,1603 3101,1639 3140,1692 3178,1706 3217,1719" fill="none" stroke="#c9c92a" stroke-width="1.6"/>
<g fill="#1a9a98">
<circle cx="2476" cy="1719" r="2.8"/><circle cx="2480" cy="1657" r="2.8"/><circle cx="2491" cy="1611" r="2.8"/><circle cx="2507" cy="1554" r="2.8"/><circle cx="2538" cy="1569" r="2.8"/><circle cx="2568" cy="1576" r="2.8"/><circle cx="2600" cy="1572" r="2.8"/><circle cx="2627" cy="1562" r="2.8"/>
<circle cx="2674" cy="1719" r="2.8"/><circle cx="2677" cy="1653" r="2.8"/><circle cx="2679" cy="1681" r="2.8"/><circle cx="2682" cy="1681" r="2.8"/><circle cx="2692" cy="1593" r="2.8"/><circle cx="2711" cy="1568" r="2.8"/><circle cx="2748" cy="1555" r="2.8"/><circle cx="2822" cy="1568" r="2.8"/>
<circle cx="2869" cy="1719" r="2.8"/><circle cx="2871" cy="1678" r="2.8"/><circle cx="2874" cy="1579" r="2.8"/><circle cx="2879" cy="1555" r="2.8"/><circle cx="2888" cy="1579" r="2.8"/><circle cx="2907" cy="1579" r="2.8"/><circle cx="2944" cy="1579" r="2.8"/><circle cx="3019" cy="1579" r="2.8"/>
<circle cx="3068" cy="1719" r="2.8"/><circle cx="3082" cy="1671" r="2.8"/><circle cx="3101" cy="1583" r="2.8"/><circle cx="3140" cy="1603" r="2.8"/><circle cx="3178" cy="1574" r="2.8"/><circle cx="3217" cy="1555" r="2.8"/>
</g>
<g class="sf" font-size="7" fill="#333" text-anchor="end">
<text x="2466" y="1550">79</text><text x="2466" y="1585">78</text><text x="2466" y="1620">77</text><text x="2466" y="1655">76</text><text x="2466" y="1690">75</text><text x="2466" y="1724">74</text>
<text x="2663" y="1557">78.6</text><text x="2663" y="1582">78.4</text><text x="2663" y="1607">78.2</text><text x="2663" y="1632">78.0</text><text x="2663" y="1658">77.8</text><text x="2663" y="1683">77.6</text><text x="2663" y="1708">77.4</text>
<text x="2858" y="1549">79.00</text><text x="2858" y="1581">78.50</text><text x="2858" y="1603">78.25</text><text x="2858" y="1625">78.00</text><text x="2858" y="1647">77.75</text><text x="2858" y="1669">77.50</text><text x="2858" y="1691">77.25</text><text x="2858" y="1713">77.00</text>
<text x="3057" y="1557">78.50</text><text x="3057" y="1583">78.25</text><text x="3057" y="1609">78.00</text><text x="3057" y="1634">77.75</text><text x="3057" y="1660">77.50</text><text x="3057" y="1686">77.25</text><text x="3057" y="1712">77.00</text>
</g>
<g class="sf" font-size="7" fill="#333"><text x="3228" y="1557">5.0</text><text x="3228" y="1580">4.5</text><text x="3228" y="1602">4.0</text><text x="3228" y="1624">3.5</text><text x="3228" y="1646">3.0</text><text x="3228" y="1668">2.5</text><text x="3228" y="1690">2.0</text><text x="3228" y="1712">1.5</text></g>
<g class="sf" font-size="7" fill="#333" text-anchor="middle">
<text x="2476" y="1737">0</text><text x="2514" y="1737">5000</text><text x="2551" y="1737">10000</text><text x="2589" y="1737">15000</text><text x="2627" y="1737">20000</text>
<text x="2674" y="1737">0</text><text x="2711" y="1737">500</text><text x="2748" y="1737">1000</text><text x="2785" y="1737">1500</text><text x="2822" y="1737">2000</text>
<text x="2869" y="1737">0</text><text x="2893" y="1737">500</text><text x="2916" y="1737">1000</text><text x="2940" y="1737">1500</text><text x="2963" y="1737">2000</text><text x="2987" y="1737">2500</text><text x="3010" y="1737">3000</text>
<text x="3063" y="1737">0</text><text x="3087" y="1737">5</text><text x="3111" y="1737">10</text><text x="3135" y="1737">15</text><text x="3159" y="1737">20</text><text x="3183" y="1737">25</text><text x="3207" y="1737">30</text>
</g>
<rect x="3064" y="1551" width="45" height="22" fill="#fff" stroke="#ccc" stroke-width="0.8"/>
<path d="M3067,1557H3080M3067,1566H3080" stroke="#1a9a98" stroke-width="1.5"/>
<g class="sf" font-size="5" fill="#333"><text x="3083" y="1559">RTD</text><text x="3083" y="1568">baseline</text></g>
<text transform="translate(2452,1637) rotate(-90)" class="sf" font-size="12" fill="#222" text-anchor="middle" letter-spacing="1">Openbook QA score</text>
<text transform="translate(3248,1637) rotate(-90)" class="sf" font-size="12" fill="#222" text-anchor="middle" letter-spacing="1">Generation speed (it/s)</text>
<g class="sf" font-size="14" fill="#111" text-anchor="middle">
<text x="2552" y="1754">(a)  <tspan font-style="italic">s</tspan><tspan font-size="9" dy="3" font-style="italic">L</tspan></text><text x="2748" y="1754">(b)  <tspan font-style="italic">k</tspan></text><text x="2946" y="1754">(c)  <tspan font-style="italic">T</tspan></text><text x="3142" y="1754">(d)  Numbers of heads used</text>
</g>
<text x="2847" y="1787" class="sf" font-size="17" fill="#111" text-anchor="middle" textLength="506">Figure 6: Hyper-parameters’ influence on RTD’s performance</text>

<!-- ============ QR codes ============ -->
<rect x="2525" y="1882" width="227" height="227" fill="url(#qa)"/>
<rect x="2931" y="1882" width="227" height="227" fill="url(#qb)"/>
<g fill="#fff">
<rect x="2525" y="1882" width="62.6" height="62.6"/><rect x="2689.4" y="1882" width="62.6" height="62.6"/><rect x="2525" y="2046.4" width="62.6" height="62.6"/>
<rect x="2931" y="1882" width="62.6" height="62.6"/><rect x="3095.4" y="1882" width="62.6" height="62.6"/><rect x="2931" y="2046.4" width="62.6" height="62.6"/>
</g>
<use href="#fd" x="2525" y="1882"/><use href="#fd" x="2697.2" y="1882"/><use href="#fd" x="2525" y="2054.2"/>
<use href="#fd" x="2931" y="1882"/><use href="#fd" x="3103.2" y="1882"/><use href="#fd" x="2931" y="2054.2"/>
<g fill="#000"><rect x="2603" y="1952" width="72" height="8"/><rect x="2712" y="2000" width="8" height="40"/><rect x="3010" y="2080" width="60" height="8"/><rect x="3120" y="1950" width="8" height="30"/></g>
<circle cx="2640" cy="1995" r="26" fill="#7a58a8" stroke="#fff" stroke-width="3"/>
<path d="M2640,1978 c-9,0 -14,6 -14,13 c0,6 3,10 8,12 v7 h12 v-7 c5,-2 8,-6 8,-12 c0,-7 -5,-13 -14,-13z" fill="#9b82c4"/>
<circle cx="3044" cy="1994" r="26" fill="#1e1e1e" stroke="#fff" stroke-width="3"/>
<g fill="#8a68b8"><circle cx="3030" cy="1980" r="2"/><circle cx="3026" cy="1988" r="2"/><circle cx="3025" cy="1997" r="2"/><circle cx="3027" cy="2006" r="2"/><circle cx="3033" cy="2012" r="2"/><circle cx="3038" cy="1976" r="2"/><circle cx="3046" cy="1975" r="1.5"/></g>
<text x="3049" y="1998" class="ss" font-size="9" fill="#ddd" text-anchor="middle">NeurIPS</text>
</svg>

<!-- ============ Header text ============ -->
<div class="a" style="left:106px;top:67px;font-size:74px;line-height:88px;color:#000">Reference Trustable Decoding: A Training-Free<br>Augmentation Paradigm for Large Language Models</div>
<div class="a" style="left:107px;top:258px;font-size:27.3px;line-height:30px;color:#333">Luohe Shi†¹, Yao Yao², Zuchao Li*†¹, Lefei Zhang¹, Hai Zhao² ; ¹Wuhan University, ²Shanghai Jiao Tong University, †Equal Contribution, *Corresponding Author</div>

<!-- ============ Column 1 ============ -->
<div class="a h" style="left:108px;top:375px">Background and Introduction</div>
<div class="a s" style="left:108px;top:436px">Why we need Reference Trustable Decoding</div>
<div class="a p" style="left:108px;top:519px">The conventional methods of augmenting LLMs in down-stream tasks<br>includes in-context learning (ICL) and fine-tuning (FT).</div>
<div class="a p" style="left:112px;top:638px">•</div>
<div class="a p" style="left:112px;top:799.6px">•</div>
<div class="a p" style="left:145px;top:638px">In Context Learning: Use examples with standard/true/golden output as<br>context to guide LLMs. With no training required, ICL <span class="gr">requires the same</span><br><span class="gr">hardware</span> demand as inferencing. However, longer context (KV Cache)<br>causes <span class="rd">long-term extra cost</span>.<br>Fine-tuning: Train the model with a small amount of domain data, usually<br>in a parameter efficient ways (PEFT) such as adapters or LoRA. Without<br>examples, shorter context brings <span class="gr">faster inference</span>. However, the training<br>itself is <span class="rd">hardware demanding</span>, even utilizing PEFT methods.</div>
<div class="a p" style="left:108px;top:1000px">A new balance is required. Can we augment LLMs with a fraction of extra<br>cost on both training and inferencing? To address this problem, we<br>proposed Reference Trustable Decoding, a novel method to fit the LLMs on<br>downstream tasks.</div>
<div class="a h" style="left:108px;top:1447px">Cost Analysis</div>
<div class="a s" style="left:108px;top:1509px">Where can we improve</div>
<div class="a p" style="left:108px;top:1593px">Major memory occupation for PEFT are from <span class="yl">Activation States</span>, with up to<br>10MB per token for a 7B model with <i>qkvo-udg</i> LoRA settings, which are<br>retained for back-propagation.</div>
<div class="a p" style="left:108px;top:2017px">Without back propagation, we can hardly transfer information from the<br>answer back into the earlier layers. Under this constriction, our focus can<br>only be on <b>LM Head</b>, or how to map last hidden states into final output.</div>

<!-- ============ Column 2 ============ -->
<div class="a h" style="left:1278px;top:373px">Methodology</div>
<div class="a s" style="left:1278px;top:434px">How Reference Trustable Decoding works.</div>
<div class="a p" style="left:1278px;top:516px">We can generate a <b>reference datastore</b> directly from pairing last hidden<br>states with their corresponding token, requires only <b>a single forward pass</b>.<br>However, directly tune the LM Head from the datastore is often sub-optimal.<br><span style="display:inline-block;width:47px">1.</span>LM Head can be large and cause <b class="rd">major memory impact</b> when training.<br><span style="display:inline-block;width:47px">2.</span>Training LM Head directly is <b class="rd">less stable</b> with smaller amount of data.<br>We’ve decided to <b class="gr">build a bypass</b> across LM Head with the datastore,<br>instead of calculating gradient on it, also making our method <b class="gr">training free</b>.</div>
<div class="a p" style="left:1278px;top:1314px">When inference, we <b>Fetch</b> key-value pairs from our datastore that match<br>current last hidden state best.&nbsp; Then use the similarity score and value to<br>form a valid possibility distribution through the process of <b>Normalization</b><br>and <b>Aggregation</b>. Finally, the distribution is used to modify next token.</div>
<div class="a p" style="left:1278px;top:1780px">To use the whole last hidden state for one distribution is a bit of a waste.<br>Inspired by Multi-Head mechanism in attention, we <b>slice</b> last hidden state<br>by channel then do <b>multiple smaller</b> retrieval, to take more examples from<br>our datastore into consideration with the <b class="gr">same calculation budget</b>. We<br>proposed Multi-Head RTD, which constantly out-perform RTD.</div>

<!-- ============ Column 3 ============ -->
<div class="a h" style="left:2370px;top:372px">Experiments</div>
<div class="a p" style="left:2370px;top:471px">We’ve tested out RTD methods on various tasks. Including common model<br>ability benches like MMLU, OBQA, etc. Moreover, CoT reasoning on<br>OBQA. And comparing the language modeling ability with tuning the model<br>with LoRA and RTD on domain specific datasets. RTD has shown its<br>capability on all experiments</div>
<div class="a p" style="left:2370px;top:1218px">We’ve also studied the efficiency of RTD method, both on time and memory<br>consumption, and find out that RTD is indeed efficient on both training and<br>inferencing. Besides, tests with different hyper-parameters have verified the<br>robustness of RTD.</div>
<div class="a s" style="left:2448px;top:1823px">Easy Links</div>
<div class="a p" style="left:2441px;top:2118px;width:400px;text-align:center">Reference Trustable Decoding<br>Github Repo Page</div>
<div class="a p" style="left:2844px;top:2118px;width:400px;text-align:center">Reference Trustable Decoding<br>Nerurips.cc Paper Page</div>
</body></html>
